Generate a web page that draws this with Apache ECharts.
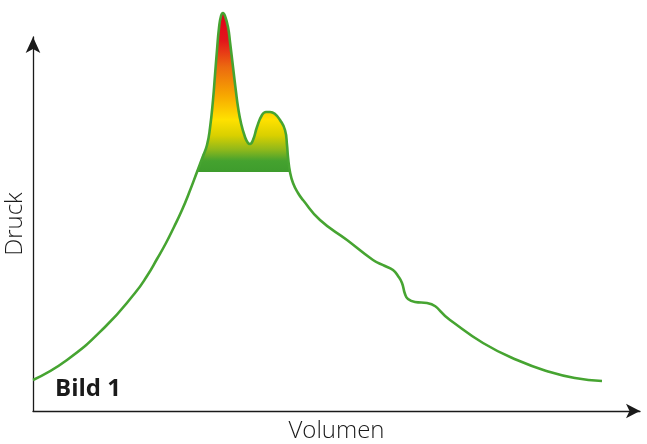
<!DOCTYPE html>
<html>
<head>
<meta charset="utf-8">
<script src="https://cdn.jsdelivr.net/npm/echarts@6/dist/echarts.min.js"></script>
<style>
html,body{margin:0;padding:0;background:#fff;}
#c{width:647px;height:444px;}
</style>
</head>
<body>
<div id="c"></div>
<script>
// Volume (x) and pressure (y), in arbitrary units
var volumen = [0,34,72,102,114,124,133,141,149,156,164,170,174,177,180,182,184,186,188,190,192,195,197,200,203,205,208,212,215,217,220,224,229,233,237,242,247,252,254,255,257,260,265,270,287,314,340,352,360,365,369,372,375,382,394,417,450,484,517,542,569];
var druck  = [31,51,84,118,135,152,168,184,201,218,239,255,266,283,311,336,361,383,395,398,395,384,369,344,319,304,288,274,268,267,271,284,296,299,299,297,291,281,266,254,239,228,218,211,191,171,151,145,141,135,128,117,112,109,108,91,68,51,39,33,30];
var peakFrom = 164, peakTo = 257, peakBase = 239;

var mainData = [], peakData = [];
for (var i = 0; i < volumen.length; i++) {
  mainData.push([volumen[i], druck[i]]);
  if (volumen[i] >= peakFrom && volumen[i] <= peakTo) peakData.push([volumen[i], druck[i]]);
}

var chart = echarts.init(document.getElementById('c'));
var green = '#46a431';
chart.setOption({
  animation: false,
  grid: {left: 33, right: 7, top: 37, bottom: 33, containLabel: false, outerBoundsMode: 'none'},
  xAxis: {
    type: 'value', min: 0, max: 607,
    name: 'Volumen', nameLocation: 'middle', nameGap: 8,
    nameTextStyle: {fontFamily: 'Open Sans', fontSize: 24, color: '#1a1a1a', fontWeight: 300},
    axisLine: {lineStyle: {color: '#1a1a1a', width: 1.3}, symbol: ['none', 'arrow'], symbolSize: [11, 14]},
    axisTick: {show: false}, axisLabel: {show: false}, splitLine: {show: false}
  },
  yAxis: {
    type: 'value', min: 0, max: 374,
    name: 'Druck', nameLocation: 'middle', nameGap: 6, nameRotate: 90,
    nameTextStyle: {fontFamily: 'Open Sans', fontSize: 24, color: '#1a1a1a', fontWeight: 300},
    axisLine: {show: true, lineStyle: {color: '#1a1a1a', width: 1.3}, symbol: ['none', 'arrow'], symbolSize: [11, 16]},
    axisTick: {show: false}, axisLabel: {show: false}, splitLine: {show: false}
  },
  graphic: [{
    type: 'text', left: 55, top: 377,
    style: {text: 'Bild 1', font: 'bold 24px "Open Sans"', fill: '#1a1a1a'}
  }],
  series: [
    {
      type: 'line', data: peakData, smooth: 0.5, showSymbol: false, clip: false, z: 2,
      lineStyle: {width: 0},
      areaStyle: {
        origin: peakBase, opacity: 1,
        color: new echarts.graphic.LinearGradient(0, 0, 0, 1, [
          {offset: 0, color: '#e2001a'},
          {offset: 0.17, color: '#e3141b'},
          {offset: 0.34, color: '#ec6a0f'},
          {offset: 0.52, color: '#f7a800'},
          {offset: 0.67, color: '#ffe100'},
          {offset: 0.77, color: '#d9d000'},
          {offset: 0.86, color: '#8fb81b'},
          {offset: 0.93, color: '#45a22f'},
          {offset: 1, color: '#3e9c2d'}
        ])
      }
    },
    {
      type: 'line', data: mainData, smooth: 0.5, showSymbol: false, clip: false, z: 3,
      lineStyle: {color: green, width: 2.6}
    }
  ]
});
</script>
</body>
</html>
